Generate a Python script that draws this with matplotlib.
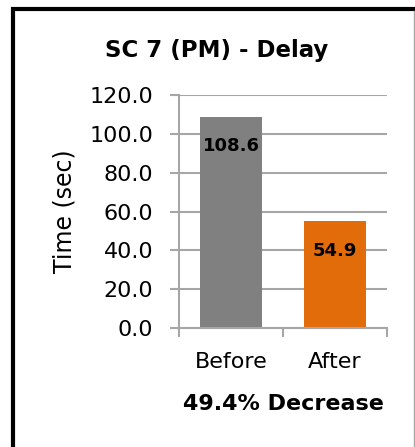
import matplotlib
matplotlib.use("Agg")
import matplotlib.pyplot as plt
from matplotlib.lines import Line2D

plt.rcParams["font.family"] = ["DejaVu Sans"]

categories = ["Before", "After"]
delay_sec = [108.6, 54.9]
bar_colors = ["#808080", "#E36C0A"]
y_ticks = [0, 20, 40, 60, 80, 100, 120]

W, H = 415, 447
fig = plt.figure(figsize=(W / 100, H / 100), dpi=100)
ax = fig.add_axes([179 / W, 1 - 328 / H, 208 / W, 233 / H])

x = list(range(len(categories)))
bars = ax.bar(x, delay_sec, width=0.6, color=bar_colors, zorder=2)
for rect, v in zip(bars, delay_sec):
    ax.annotate(f"{v:.1f}", (rect.get_x() + rect.get_width() / 2, v),
                xytext=(0, -21), textcoords="offset points",
                ha="center", va="center", fontsize=13, fontweight="bold", zorder=3)

ax.set_xlim(-0.5, 1.5)
ax.set_ylim(0, 120)
ax.set_yticks(y_ticks)
ax.set_yticklabels([f"{t:.1f}" for t in y_ticks], fontsize=16)
ax.set_xticks(x)
ax.set_xticklabels(categories, fontsize=16)
ax.tick_params(axis="x", length=0, pad=17)
ax.tick_params(axis="y", length=6.5, width=1.5, color="#A6A6A6", pad=12)
# category boundary ticks below the axis
ax.set_xticks([-0.5, 0.5, 1.5], minor=True)
ax.tick_params(axis="x", which="minor", length=6.5, width=1.5, color="#A6A6A6", direction="out")

ax.grid(axis="y", color="#A6A6A6", linewidth=1.5, zorder=0)
for s in ["top", "right"]:
    ax.spines[s].set_visible(False)
ax.spines["left"].set_color("#A6A6A6")
ax.spines["left"].set_linewidth(1.5)
ax.spines["bottom"].set_color("#A6A6A6")
ax.spines["bottom"].set_linewidth(1.5)

ax.set_ylabel("Time (sec)", fontsize=17, labelpad=9)
ax.set_xlabel("49.4% Decrease", fontsize=16, fontweight="bold", labelpad=16)
fig.text(217 / W, 1 - 51 / H, "SC 7 (PM) - Delay", ha="center", va="center",
         fontsize=16.5, fontweight="bold")

# frame: heavy top/left edges, thin right edge
fig.add_artist(Line2D([11 / W, 1], [1 - 9 / H] * 2, color="black", lw=3,
                      transform=fig.transFigure, solid_capstyle="butt"))
fig.add_artist(Line2D([13 / W] * 2, [0, 1 - 7 / H], color="black", lw=3,
                      transform=fig.transFigure, solid_capstyle="butt"))
fig.add_artist(Line2D([413.5 / W] * 2, [0, 1 - 11 / H], color="#A6A6A6", lw=1,
                      transform=fig.transFigure))

fig.savefig("out.png", dpi=100)
